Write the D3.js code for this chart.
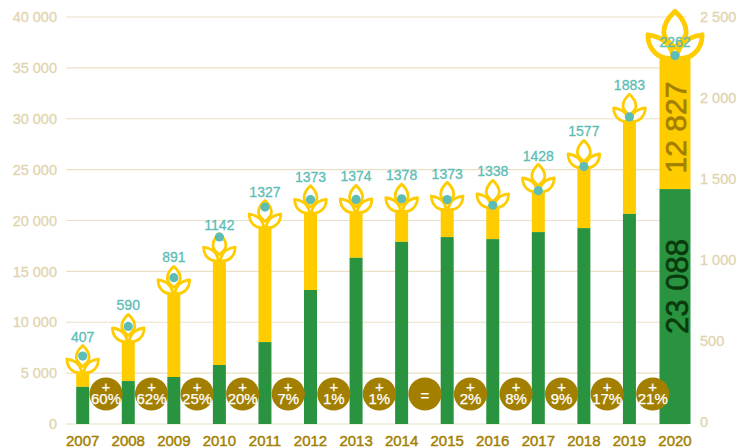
<!DOCTYPE html>
<html lang="en">
<head>
<meta charset="UTF-8">
<title>Chart</title>
<style>
  html, body { margin: 0; padding: 0; background: #fff; }
  text { font-family: "Liberation Sans", Arial, sans-serif; }
</style>
</head>
<body>
<svg id="chart"></svg>
<script src="https://d3js.org/d3.v7.min.js"></script>
<script>
const width = 736, height = 447;

// data
const years = [2007, 2008, 2009, 2010, 2011, 2012, 2013, 2014, 2015, 2016, 2017, 2018, 2019, 2020];
const green = [3650, 4220, 4620, 5800, 8050, 13170, 16340, 17900, 18370, 18170, 18860, 19250, 20650, 23088];
const yellow = [1360, 3840, 8160, 10200, 11210, 7530, 4400, 2960, 2660, 3060, 3940, 5910, 9050, 12827];
const dots = [407, 590, 891, 1142, 1327, 1373, 1374, 1378, 1373, 1338, 1428, 1577, 1883, 2262];
const badges = ["+60%", "+62%", "+25%", "+20%", "+7%", "+1%", "+1%", "=", "+2%", "+8%", "+9%", "+17%", "+21%"];
const leftTicks = [0, 5000, 10000, 15000, 20000, 25000, 30000, 35000, 40000];
const rightTicks = [0, 500, 1000, 1500, 2000, 2500];

const colGreen = "#2a9340", colYellow = "#ffcc00", colTeal = "#5dbdb5",
      colGold = "#a37f00", colTick = "#e1d4ae", colGrid = "#e9e0c6";

const svg = d3.select("#chart").attr("width", width).attr("height", height).style("display", "block");

const x = d3.scalePoint().domain(years).range([82.7, 675]);
const y = d3.scaleLinear().domain([0, 40000]).range([424, 17]);
const yR = d3.scaleLinear().domain([0, 2500]).range([422, 17]);

const fmt = v => String(v).replace(/\B(?=(\d{3})+$)/g, " ");
const last = years.length - 1;

// grid
svg.append("g").selectAll("line").data(leftTicks).join("line")
    .attr("x1", 66).attr("x2", 687)
    .attr("y1", d => y(d)).attr("y2", d => y(d))
    .attr("stroke", colGrid).attr("stroke-width", 1.2);

// axes
const axisL = d3.axisLeft(y).tickValues(leftTicks).tickFormat(fmt).tickSize(0).tickPadding(0);
const gL = svg.append("g").attr("transform", "translate(57,0)").call(axisL);
const axisR = d3.axisRight(yR).tickValues(rightTicks).tickFormat(fmt).tickSize(0).tickPadding(0);
const gR = svg.append("g").attr("transform", "translate(700,0)").call(axisR);
[gL, gR].forEach(g => {
  g.select(".domain").remove();
  g.selectAll("text").attr("fill", colTick).attr("stroke", colTick).attr("stroke-width", 0.3).attr("font-size", 14.5)
    .style("font-family", '"Liberation Sans", Arial, sans-serif');
});

const barW = i => i === last ? 31 : 13;

// bars
svg.append("g").selectAll("rect").data(years).join("rect")
    .attr("x", (d, i) => x(d) - barW(i) / 2)
    .attr("width", (d, i) => barW(i))
    .attr("y", (d, i) => y(green[i] + yellow[i]))
    .attr("height", (d, i) => y(green[i]) - y(green[i] + yellow[i]))
    .attr("fill", colYellow);
svg.append("g").selectAll("rect").data(years).join("rect")
    .attr("x", (d, i) => x(d) - barW(i) / 2)
    .attr("width", (d, i) => barW(i))
    .attr("y", (d, i) => y(green[i]))
    .attr("height", (d, i) => y(0) - y(green[i]))
    .attr("fill", colGreen);

// sprout on top of the yellow bar, origin is its bottom
const petals = [
  "M0,-28.6 C-3.5,-25.5 -6.5,-21 -6.5,-16.5 C-6.5,-13 -3,-10 0,-7.5 C3,-10 6.5,-13 6.5,-16.5 C6.5,-21 3.5,-25.5 0,-28.6 Z",
  "M-0.8,-1.6 C-2,-7 -4.5,-13.5 -15.8,-15 C-15.8,-6 -9,0 -0.8,-1.6 Z",
  "M0.8,-1.6 C2,-7 4.5,-13.5 15.8,-15 C15.8,-6 9,0 0.8,-1.6 Z"
];
const leaf = svg.append("g").selectAll("g").data(years).join("g")
    .attr("transform", (d, i) => {
      const k = i === last ? 1.72 : 1;
      const off = i === last ? 2 : 1;
      return `translate(${x(d)},${y(green[i] + yellow[i]) + off}) scale(${k})`;
    });
petals.forEach(p => leaf.append("path").attr("d", p)
    .attr("fill", "#fff").attr("stroke", colYellow).attr("stroke-width", 2.8).attr("stroke-linejoin", "round"));

// dots and their labels
svg.append("g").selectAll("circle").data(years).join("circle")
    .attr("cx", d => x(d)).attr("cy", (d, i) => yR(dots[i])).attr("r", 4.6).attr("fill", colTeal);
svg.append("g").selectAll("text").data(years).join("text")
    .attr("x", d => x(d))
    .attr("y", (d, i) => i === last ? yR(dots[i]) - 8.5 : y(green[i] + yellow[i]) + 1 - 32.5)
    .attr("text-anchor", "middle").attr("font-size", 14).attr("fill", colTeal)
    .attr("stroke", colTeal).attr("stroke-width", 0.3)
    .text((d, i) => dots[i]);

// growth badges
const badge = svg.append("g").selectAll("g").data(badges).join("g")
    .attr("transform", (d, i) => `translate(${(x(years[i]) + x(years[i + 1])) / 2 + 0.5},394)`);
badge.append("circle").attr("r", 16.6).attr("fill", colGold);
const badgeText = badge.append("text").attr("text-anchor", "middle").attr("fill", "#fff")
    .attr("stroke", "#fff").attr("stroke-width", 0.25).attr("font-size", 15);
badgeText.append("tspan").attr("x", 0).attr("y", d => d === "=" ? 7 : -2.5)
    .text(d => d === "=" ? "=" : "+");
badgeText.filter(d => d !== "=").append("tspan").attr("x", 0).attr("y", 10).text(d => d.slice(1));

// year labels
svg.append("g").selectAll("text").data(years).join("text")
    .attr("x", d => x(d)).attr("y", 445.5)
    .attr("text-anchor", "middle").attr("font-size", 15).attr("fill", colGold)
    .attr("stroke", colGold).attr("stroke-width", 0.45)
    .text(d => d);

// rotated totals on the big bar
svg.append("text")
    .attr("transform", `translate(${x(years[last]) + 13},286.5) rotate(-90)`)
    .attr("text-anchor", "middle").attr("font-size", 31).attr("fill", "#0a3a0c")
    .attr("stroke", "#0a3a0c").attr("stroke-width", 0.6)
    .text(fmt(green[last]));
svg.append("text")
    .attr("transform", `translate(${x(years[last]) + 10.5},127.5) rotate(-90)`)
    .attr("text-anchor", "middle").attr("font-size", 30).attr("fill", colGold)
    .attr("stroke", colGold).attr("stroke-width", 0.6)
    .text(fmt(yellow[last]));
</script>
</body>
</html>
